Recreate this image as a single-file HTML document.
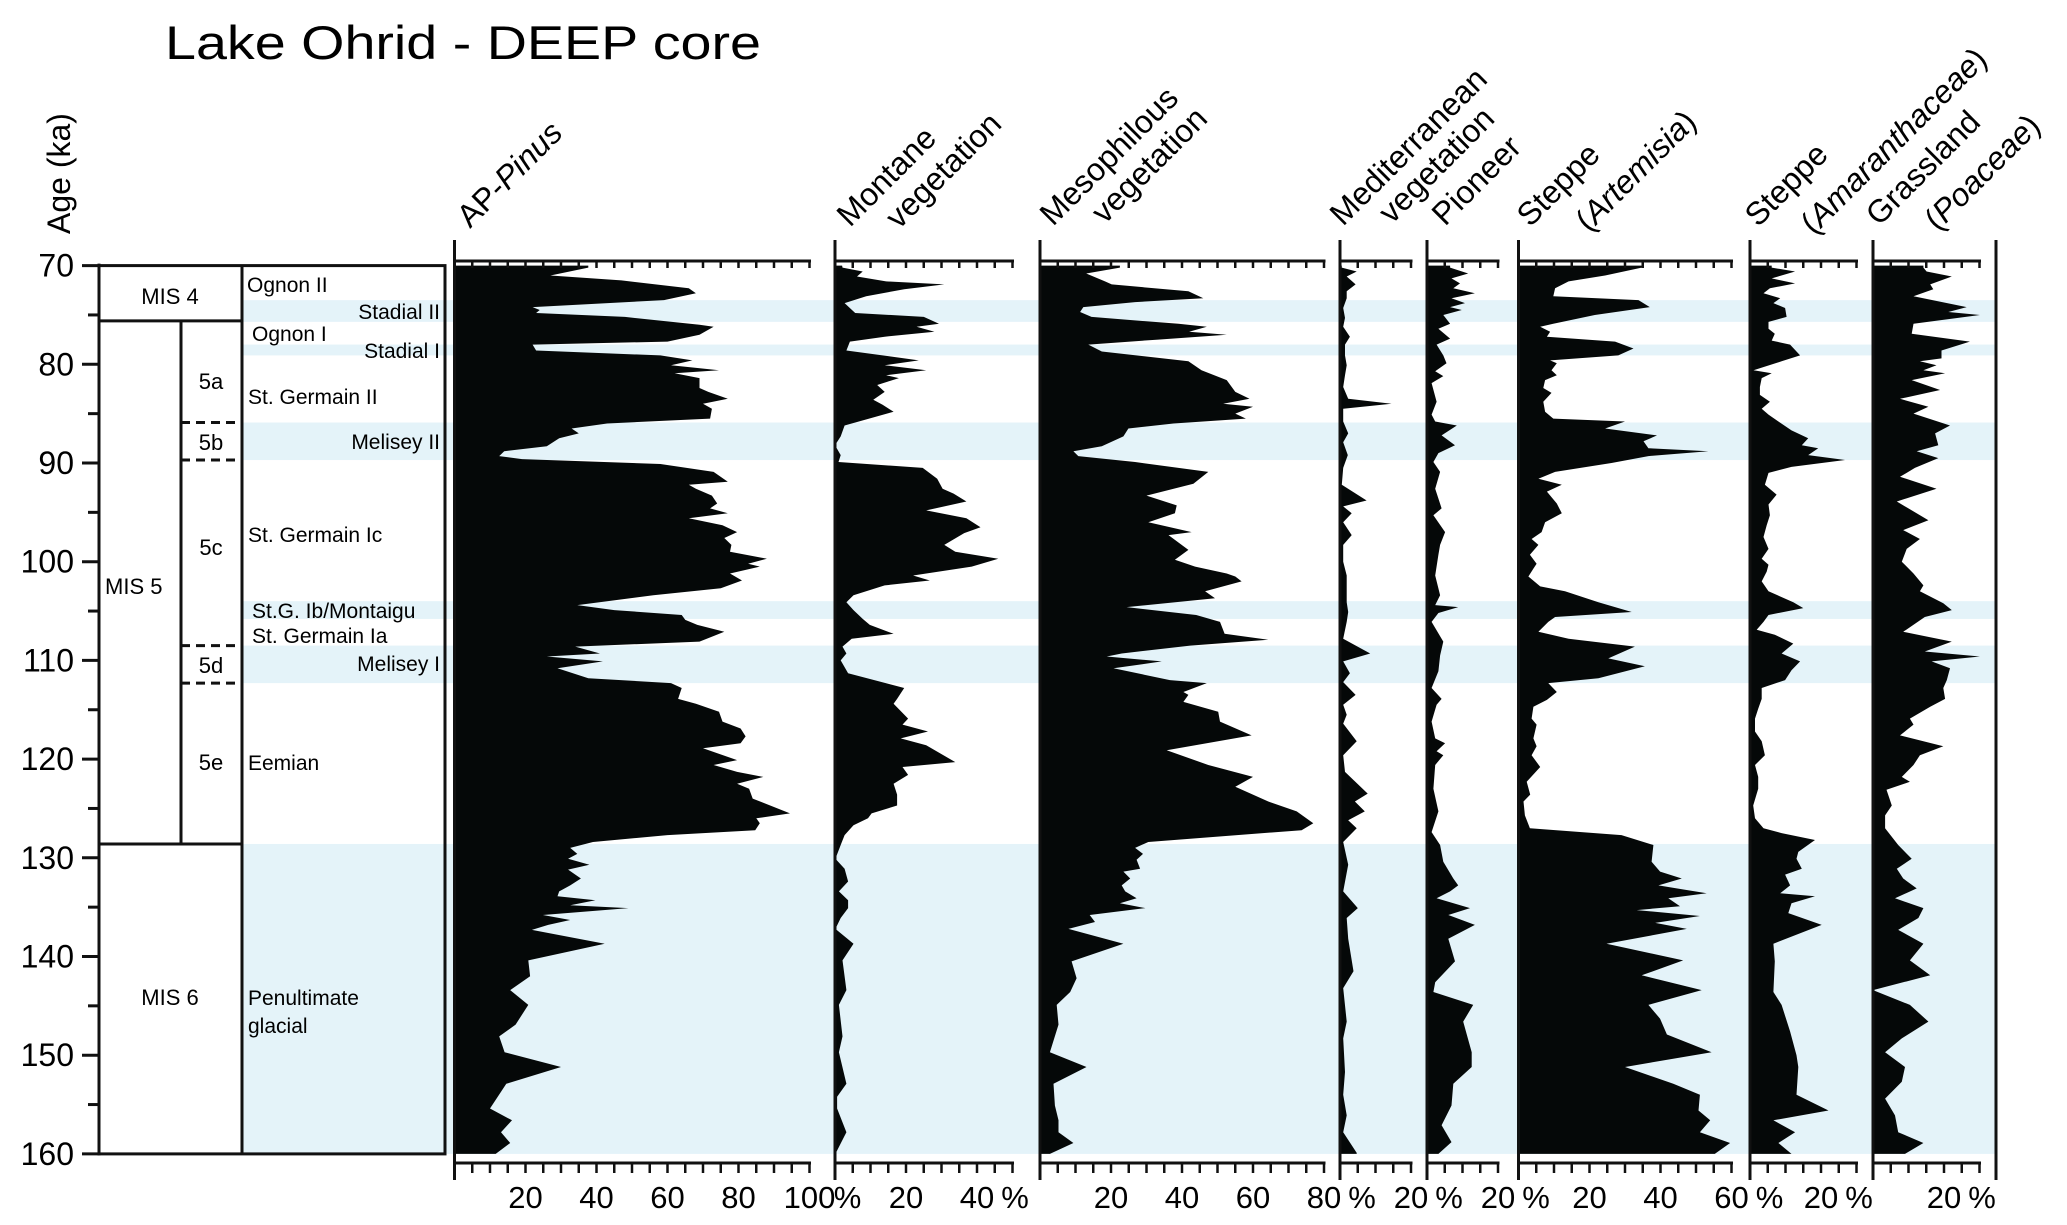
<!DOCTYPE html>
<html><head><meta charset="utf-8"><style>
html,body{margin:0;padding:0;background:#fff;}
svg{display:block;font-family:"Liberation Sans",Arial,sans-serif;}
</style></head><body>
<svg id="chart" width="2067" height="1225" viewBox="0 0 2067 1225" xmlns="http://www.w3.org/2000/svg">
<text x="165" y="59" font-size="47" textLength="596" lengthAdjust="spacingAndGlyphs">Lake Ohrid  - DEEP core</text>
<text transform="translate(70,234) rotate(-90)" font-size="32">Age (ka)</text>
<g id="bands"></g>
<g id="strat"></g>
<g id="panels"></g>
<g id="yaxis"></g>
</svg>
<script>
// ---- data ----
const ageTicks = [70,80,90,100,110,120,130,140,150,160];
const bandStart = [73.5,78.0,85.9,104.0,108.5,128.6];
const bandEnd   = [75.7,79.1,89.7,105.8,112.3,160];

const pinusAge=[70,70.2,71.0,71.5,72.3,72.8,73.5,74.2,74.5,74.8,75.2,76.0,76.2,77.0,77.7,78.0,78.6,79.1,79.6,80.1,80.6,80.9,81.4,82.4,82.8,83.5,84.0,84.5,85.5,86.0,86.5,87.0,87.5,88.3,88.8,89.3,89.6,90.1,90.9,91.9,92.2,92.6,93.3,94.1,94.6,95.1,95.6,96.3,97.0,97.6,98.3,99.0,99.7,100.2,100.5,101.2,101.9,102.7,103.4,104.4,104.9,105.4,105.9,106.4,107.1,108.1,108.6,109.3,109.6,110.1,110.8,111.8,112.3,112.8,113.9,114.4,115.2,116.2,116.9,117.7,118.4,118.9,120.1,120.6,121.3,121.8,122.5,123.0,124.0,125.5,126.0,126.5,127.2,127.7,128.4,129.0,129.6,130.1,130.7,131.2,132.1,132.8,133.4,133.9,134.3,134.8,135.1,135.8,136.3,136.8,137.3,138.7,140.4,142.0,143.4,144.9,146.9,148.1,149.7,151.2,152.9,155.4,156.6,157.8,158.9,160];
const pinusPct=[37.7,37.7,27,47,66,68,59,22,24,23,48,69,73,69,60,22,23,58,67,61,74.5,62,69,69,71.5,77,70,72.5,72,43,33,35,29.5,26,14,12.6,19,58,73,77,66,68,72.5,74,72,77,66,75.5,79.6,76,78,77.6,88,82.7,86,77.6,81,75,56,34.6,45,64,65,68.4,76,69,34,41,26,41.8,29,37.7,61,64,63,68,74.5,75.5,80.6,82,80.6,70,79.6,73,79.6,87,79.6,83,84,94.5,85,86,84.7,60,39,32.6,34.6,32,38,32,35.6,32.6,29.5,29,39.7,32.6,49,24.9,32.6,26.4,21.8,42.3,20.8,21.3,15.7,20.8,17.2,12.6,14.1,30,14.6,10,16.2,13.1,15.7,11.6];

const montAge=[70,70.2,70.6,71.1,71.6,71.9,72.4,73.1,73.8,74.8,75.2,75.9,76.2,76.7,77.2,77.7,78.6,79.1,79.6,80.1,80.6,81.1,81.4,82.1,82.8,83.6,84.1,84.8,86.2,87.3,88.2,89.2,89.9,90.5,91.6,92.6,93.1,93.9,94.8,95.6,96.5,97.1,98.3,99.0,99.7,100.5,101.4,101.9,102.4,103.4,104.1,104.9,105.8,106.4,107.3,107.8,108.6,109.3,110.0,111.3,112.8,113.9,114.4,115.9,116.5,117.2,117.9,118.6,120.3,120.8,121.6,122.5,123.6,124.7,125.5,126.0,126.7,127.7,128.7,130.1,131.1,132.4,133.4,134.3,135.1,136.1,137.2,138.7,140.4,143.4,144.9,148.1,149.7,152.9,154.2,155.4,157.8,160];
const montPct=[2,2.1,7.8,6.2,14.4,30.8,19.5,8.8,2.7,5.7,25,29.3,23,28,14,4.2,3.2,13.4,23.6,14,25.7,14.4,18,11.9,14,10.8,13.4,16.5,2.7,1.6,0,1.6,1,24.7,28.8,30.3,33.4,37,25.7,37,41,36.4,30.8,33.9,46,38.5,22,26.7,14,5.2,3.2,5.2,7.8,9.8,16.5,4.7,2.1,3.2,1.6,3.7,19.5,17.5,16.5,20.6,19,26.2,18.5,25.7,33.9,19,20.6,16.5,17.5,17.5,10.3,9.3,5.2,2.7,1.6,0.1,2.7,3.7,1.1,3.7,3.7,1.6,0.1,5.2,2.1,3.2,1.1,2.1,1.1,3.2,0.6,0.6,3.2,0.1];

const mesoAge=[70,70.2,70.8,71.6,71.9,72.6,73.3,73.7,74.2,74.7,75.2,75.9,76.2,76.7,77.0,77.5,78.0,78.7,79.7,80.6,81.6,82.8,83.5,84.0,84.3,85.0,85.5,86.0,86.5,87.3,88.3,88.8,89.3,89.9,90.9,92.1,93.3,94.3,95.1,96.0,97.0,97.3,98.8,99.8,100.5,101.2,101.5,102.0,103.0,103.7,104.6,105.4,106.1,107.3,107.9,108.5,109.3,109.6,110.1,110.8,112.0,112.3,113.2,113.5,114.2,115.2,116.2,117.6,119.1,120.6,121.8,122.8,124.3,125.3,126.5,127.2,128.4,129.0,129.6,130.2,131.1,131.4,132.1,132.8,133.4,134.1,134.6,135.1,135.8,136.5,137.2,138.7,140.5,142.2,143.6,144.9,146.9,149.7,151.2,152.9,155.1,156.6,157.8,158.9,160];
const mesoPct=[22.5,22.5,13,18.3,20.2,41.8,46,26.8,12.2,11.3,14.5,39,47,42,52.6,33.3,13.6,17.4,41.8,45.5,52.6,55,59,51.6,60,55,58,37.6,24.9,23.5,17.4,9.4,10.8,26.8,47.4,43.2,30,38.5,38,30.5,42.7,36.2,41.8,38,43.7,52.6,55,56.8,46.5,49.3,24.4,44,50.7,52,64.3,42.3,23,18.8,34.3,20.7,36.6,47,40.4,41.8,40.4,50.2,50.7,59.6,35.7,47.4,60,55,64.3,72.3,77,73.7,30.5,26.8,29,27.2,28.2,23.5,25.4,23,24,27.2,22.5,29.7,14,15.5,8,23.5,8.9,10.3,8.5,4.7,5.2,2.8,13.1,3.8,4.2,5.2,5.2,9.4,2.8];

const medAge=[70,70.2,70.6,71.1,71.9,72.6,73.3,74.3,75.3,76.2,77.2,78.0,79.1,80.1,81.1,82.3,83.5,84.0,84.5,85.8,87.0,87.9,89.2,90.5,92.2,93.8,94.4,95.1,96.0,97.3,98.3,100.0,101.4,102.7,104.1,105.1,106.1,107.8,109.3,110.1,111.3,112.2,113.5,114.5,115.5,116.4,118.2,119.6,121.3,123.5,124.3,125.3,126.2,127.0,128.4,130.7,133.4,135.1,136.1,138.2,141.5,143.2,146.6,148.3,151.7,154.0,156.1,157.8,159.9,160];
const medPct=[0.5,0.5,4.7,1.9,4.4,1.9,1.9,0.9,1.4,0.9,2.8,1.4,1.4,1.9,1.4,0.9,2.3,14.5,0.9,0.9,2.3,0.9,2.2,0.9,0.5,7.5,0.9,3.3,0.9,3.3,0.9,0.9,1.9,1.9,1.9,2.3,1.9,0.9,8.5,0.9,2.8,0.9,4.4,0.9,1.9,0.9,4.7,0.9,1.4,7.8,4.2,7,2.3,4.7,0.9,2.3,0.9,5,1.9,2.3,3.8,0.9,1.9,0.9,1.4,0.9,1.9,0.9,4.7,4.7];

const pionAge=[70,70.2,70.8,71.3,71.8,72.3,72.8,73.3,73.8,74.2,74.5,75.0,75.9,76.4,77.4,78.0,79.1,79.9,80.7,81.2,81.9,83.8,85.1,85.8,86.2,87.2,88.2,89.0,89.9,90.9,92.6,94.6,95.3,97.0,98.3,99.3,101.4,103.4,104.4,104.6,105.2,106.1,108.1,109.5,111.1,112.8,113.9,114.5,116.2,117.9,118.4,119.2,119.6,120.6,123.0,125.3,127.4,128.7,130.4,132.1,132.8,133.4,134.1,135.1,135.8,136.8,138.2,140.5,142.6,143.6,144.9,146.6,149.7,151.2,152.9,155.1,157.1,158.8,160];
const pionPct=[6.5,6.5,11.6,6.9,9.3,7.4,13.5,6.9,10.7,6.5,9.8,4.6,6.5,3.2,6.5,2.7,4.6,5.5,2.3,4.6,1.3,2.7,1.3,2.3,8.4,4.1,7.9,3.2,1.8,3.7,2.3,4.1,1.8,5.1,3.7,3.2,2.3,3.7,2.3,8.8,3.2,1.3,4.6,3.7,3.2,1.3,4.1,2.7,1.3,2.3,5.1,2.7,4.6,2.3,1.8,3.2,1.3,3.7,4.6,7.4,8.8,6.5,2.7,12.1,6,13.5,6,7.9,2.3,1.8,13,10.2,12.6,12.6,7.4,6.9,4.1,6.9,3.2];

const artAge=[70,70.2,71.0,71.6,72.3,73.1,73.5,74.2,75.0,75.9,76.2,76.7,77.2,77.7,78.4,79.1,79.6,79.9,80.6,81.1,81.6,82.4,82.9,83.8,84.8,85.5,85.8,86.5,87.2,87.8,88.5,88.8,89.3,90.0,90.9,91.6,92.2,92.9,94.1,95.1,96.0,97.0,97.7,98.3,99.3,100.2,100.7,101.5,102.5,103.0,104.1,105.1,105.6,106.1,107.1,107.8,108.6,109.8,110.6,111.8,112.3,113.2,114.0,114.7,115.9,116.5,117.9,118.7,119.6,120.8,122.3,123.6,124.3,125.7,127.0,127.7,128.7,130.4,131.4,132.1,132.8,133.6,134.1,134.9,135.3,135.9,136.6,137.2,138.7,140.4,141.9,143.4,144.9,146.3,147.9,149.7,151.2,152.9,154.0,155.6,156.6,157.8,158.9,160];
const artPct=[34.7,34.7,24.4,14.1,10.3,9.8,33.8,37,21.5,9.8,6.1,8.9,8,27.2,32.4,28.1,8.9,10.8,9.3,10.8,7.5,7,9.3,7,7.5,9.8,30,24.4,39,35.2,36.6,53.5,36.6,26.2,10.3,5.6,12.2,8,10.8,12.2,7.5,6.5,3.7,5.6,3.2,5.1,4.2,2.8,6.1,13.1,22.5,31.9,10.3,8.4,5.6,14.1,32.8,25.3,35.6,22.5,8.4,10.8,8,4.2,3.7,5.1,4.2,5.1,3.7,6.1,2.3,3.3,1.4,1.8,3.2,29,38,37.5,39.9,46,39.4,53,42.2,45.5,33.3,51.1,38.5,47.4,24.8,46.4,34.7,51.6,36.6,39.9,41.8,54.4,30,43.6,51.1,50.7,54,51.1,59.6,55.3];

const amaAge=[70,70.2,70.6,71.3,71.8,72.3,72.8,73.3,73.8,74.3,75.2,75.7,76.4,76.9,77.6,78.0,79.1,79.7,80.6,80.9,81.4,82.3,83.1,83.8,84.5,85.1,85.8,86.7,87.5,88.2,88.5,89.2,89.7,90.4,91.0,92.2,93.2,94.2,95.3,96.3,97.5,98.7,99.7,100.3,101.0,102.0,103.0,104.1,104.7,105.4,106.1,106.9,107.4,108.3,109.3,110.1,111.0,112.0,112.8,113.9,114.9,115.9,117.2,118.2,119.6,120.6,121.8,123.0,124.7,126.0,127.0,127.5,128.2,129.4,130.1,131.1,131.7,132.8,133.6,133.9,134.6,135.6,136.8,138.7,140.5,143.6,144.9,147.6,150.0,151.2,154.0,155.6,156.6,157.8,158.9,160];
const amaPct=[6.1,6.1,12.7,6.1,12.7,5.6,3.8,8.5,6.6,9.9,10.3,5.2,5.2,7,6.1,11.3,14.1,8.9,1,6.1,3.3,2.8,2.8,5.6,3.3,5.2,8,11.7,16.4,14.6,19.2,16.4,26.8,11.7,5.2,4.2,7.5,5.2,5.6,4.7,3.8,5.2,3.3,5.2,4.7,3.3,5.2,12.2,15,5.2,3.8,1.9,7,12.2,8.9,14.1,11.7,9.9,3.3,3.3,2.3,1.4,1.4,3.3,4.2,1.4,2.3,2.3,0.9,1.4,3.8,8.9,18.3,13.6,13.1,14.6,9.9,11.3,8.5,18.3,11.7,10.8,20.2,6.6,7,6.6,8.9,11.3,13.1,13.6,13.1,22.1,6.6,12.7,8,11.7];

const grassAge=[70,70.2,70.6,71.1,71.9,72.4,73.1,74.2,74.7,75.0,75.9,76.9,77.7,78.6,79.4,79.7,80.1,80.6,80.9,81.6,82.6,83.5,84.3,85.0,86.2,87.0,88.2,88.8,89.5,90.5,91.4,92.6,93.9,95.8,96.8,97.7,98.7,100.0,101.2,102.4,103.0,104.2,104.9,105.6,107.1,108.1,109.1,109.6,110.1,110.8,112.0,112.8,113.9,114.7,115.9,116.5,117.6,118.7,119.6,120.6,121.8,122.3,123.1,124.7,125.7,127.0,128.7,130.1,131.1,132.1,133.1,134.1,135.1,136.1,137.3,138.7,140.4,141.9,143.4,144.9,146.6,148.3,149.7,151.2,152.7,154.4,156.1,157.8,158.9,160];
const grassPct=[14.2,14.2,15.1,22.2,16.1,17,11.4,26.4,21.2,30.1,11.4,10.9,27.3,19.3,19.3,13.2,17.9,14.2,20.3,10.9,18.9,7.6,15.6,11.4,21.7,17.5,18.4,12.3,18.4,11.8,7.6,17.9,6.7,15.6,8.5,13.2,9.5,8.1,11.4,14.2,13.2,19.8,22.2,14.6,8.5,22.2,14.6,30.1,16.5,21.7,20.8,19.8,20.3,16.1,10.4,11.4,7.6,19.8,13.2,11.4,8.1,10.4,3.8,5.3,3.4,3.4,7.1,10.9,6.7,8.5,12.3,6.2,14.2,12.8,7.1,14.2,10.4,16.1,0,10.4,15.6,8.1,3.4,9,8.1,3.4,6.2,7.1,14.2,9];

const panelNames=["ap-pinus","montane","mesophilous","mediterranean","pioneer","steppe-artemisia","steppe-amaranthaceae","grassland-poaceae"];
const panelMax=[100,50,80,20,20,60,30,30];
const panelLabels=[[20,40,60,80,100],[20,40],[20,40,60,80],[20],[20],[20,40,60],[20],[20]];
</script>
<script>
const NS="http://www.w3.org/2000/svg";
const svg=document.getElementById('chart');
const Y0=265.6, PXKA=9.87, PXPCT=3.55;
const yScale=a=>Y0+(a-70)*PXKA;
const panelX0=[454.5,835,1040,1340,1427,1518.5,1750,1873];
const ages=[pinusAge,montAge,mesoAge,medAge,pionAge,artAge,amaAge,grassAge];
const vals=[pinusPct,montPct,mesoPct,medPct,pionPct,artPct,amaPct,grassPct];
function mk(tag,attrs,parent){const e=document.createElementNS(NS,tag);for(const k in attrs)e.setAttribute(k,attrs[k]);parent.appendChild(e);return e;}

// bands
const bands=document.getElementById('bands');
for(let i=0;i<bandStart.length;i++){
  const r=mk('rect',{x:242,y:yScale(bandStart[i]),width:1754,height:yScale(bandEnd[i])-yScale(bandStart[i]),fill:'#e4f3f9'},bands);
  
  
}

// strat column
const st=document.getElementById('strat');
const L={stroke:'#111','stroke-width':3,fill:'none'};
mk('rect',Object.assign({x:99,y:yScale(70),width:346,height:yScale(160)-yScale(70)},L),st);
mk('line',Object.assign({x1:242,y1:yScale(70),x2:242,y2:yScale(160)},L),st);
mk('line',Object.assign({x1:99,y1:yScale(75.6),x2:242,y2:yScale(75.6)},L),st);
mk('line',Object.assign({x1:99,y1:yScale(128.6),x2:242,y2:yScale(128.6)},L),st);
mk('line',Object.assign({x1:181,y1:yScale(75.6),x2:181,y2:yScale(128.6)},L),st);
[85.9,89.7,108.5,112.3].forEach(a=>mk('line',Object.assign({x1:181,y1:yScale(a),x2:242,y2:yScale(a),'stroke-dasharray':'9,6'},L),st));
const stratTexts=[["MIS 4",170,304,'middle'],["MIS 5",105,594,'start'],["MIS 6",170,1005,'middle'],
 ["5a",211,389,'middle'],["5b",211,450,'middle'],["5c",211,555,'middle'],["5d",211,673,'middle'],["5e",211,770,'middle']];
stratTexts.forEach(t=>{const e=mk('text',{x:t[1],y:t[2],'font-size':22,'text-anchor':t[3]},st);e.textContent=t[0];
  
  });
const evTexts=[["Ognon II",247,292,'start'],["Stadial II",440,319,'end'],["Ognon I",252,341,'start'],["Stadial I",440,358,'end'],
 ["St. Germain II",248,404,'start'],["Melisey II",440,449,'end'],["St. Germain Ic",248,542,'start'],["St.G. Ib/Montaigu",252,618,'start'],
 ["St. Germain Ia",252,643,'start'],["Melisey I",440,671,'end'],["Eemian",248,770,'start'],["Penultimate",248,1005,'start'],["glacial",248,1033,'start']];
evTexts.forEach(t=>{const e=mk('text',{x:t[1],y:t[2],'font-size':21,'text-anchor':t[3]},st);e.textContent=t[0];
  
  });

// y axis
const ya=document.getElementById('yaxis');
mk('line',{x1:99,y1:yScale(70)-2,x2:99,y2:yScale(160)+1.5,stroke:'#111','stroke-width':3},ya);
for(let a=70;a<=160;a+=5){mk('line',{x1:(a%10===0)?82:88,y1:yScale(a),x2:99,y2:yScale(a),stroke:'#111','stroke-width':3},ya);}
ageTicks.forEach(a=>{const e=mk('text',{x:74,y:yScale(a)+11,'font-size':32,'text-anchor':'end'},ya);e.textContent=a;
  
  });

// panels
const pg=document.getElementById('panels');
for(let p=0;p<8;p++){
  const g=mk('g',{},pg);
  
  
  const x0=panelX0[p], xs=v=>x0+v*PXPCT, xe=xs(panelMax[p]);
  const A=ages[p],V=vals[p];
  let pts=[[x0,yScale(A[0])]];
  for(let i=0;i<A.length;i++)pts.push([xs(V[i]),yScale(A[i])]);
  pts.push([x0,yScale(A[A.length-1])]);
  const area=mk('polygon',{points:pts.map(q=>q[0].toFixed(1)+','+q[1].toFixed(1)).join(' '),fill:'#050808'},g);
  
  
  mk('line',{x1:x0,y1:240,x2:x0,y2:1180,stroke:'#111','stroke-width':3},g);
  mk('line',{x1:x0,y1:261,x2:xe+1.5,y2:261,stroke:'#111','stroke-width':3},g);
  mk('line',{x1:x0,y1:1163,x2:xe+1.5,y2:1163,stroke:'#111','stroke-width':3},g);
  for(let v=5;v<=panelMax[p];v+=5){
    mk('line',{x1:xs(v),y1:261,x2:xs(v),y2:268,stroke:'#111','stroke-width':2.5},g);
    mk('line',{x1:xs(v),y1:1163,x2:xs(v),y2:1173,stroke:'#111','stroke-width':2.5},g);
  }
  const labs=panelLabels[p];
  labs.forEach(v=>{const e=mk('text',{x:xs(v),y:1208,'font-size':31,'text-anchor':'middle'},g);e.textContent=v;
    
    });
  const pc=mk('text',{x:xs(labs[labs.length-1])+38,y:1208,'font-size':31,'text-anchor':'middle'},g);pc.textContent='%';
  
  
}
mk('line',{x1:1996,y1:240,x2:1996,y2:1180,stroke:'#111','stroke-width':3},pg);

// titles
const titles=[
 {x:470,y:229,l1:[["AP-",false],["Pinus",true]],l2:null},
 {x:850,y:228,l1:[["Montane",false]],l2:[["vegetation",false]],dx:33,dy:36},
 {x:1053,y:227,l1:[["Mesophilous",false]],l2:[["vegetation",false]],dx:38,dy:35},
 {x:1343,y:227,l1:[["Mediterranean",false]],l2:[["vegetation",false]],dx:36,dy:33},
 {x:1445,y:227,l1:[["Pioneer",false]],l2:null},
 {x:1530,y:228,l1:[["Steppe",false]],l2:[["(",false],["Artemisia",true],[")",false]],dx:38,dy:45},
 {x:1758,y:228,l1:[["Steppe",false]],l2:[["(",false],["Amaranthaceae",true],[")",false]],dx:34,dy:45},
 {x:1879,y:227,l1:[["Grassland",false]],l2:[["(",false],["Poaceae",true],[")",false]],dx:38,dy:45}
];
titles.forEach((t,i)=>{
  const e=mk('text',{transform:`translate(${t.x},${t.y}) rotate(-45)`,'font-size':32},svg);
  
  
  t.l1.forEach((s,j)=>{const ts=mk('tspan',j===0?{x:0,y:0}:{},e);if(s[1])ts.setAttribute('font-style','italic');ts.textContent=s[0];});
  if(t.l2)t.l2.forEach((s,j)=>{const ts=mk('tspan',j===0?{x:t.dx,y:t.dy}:{},e);if(s[1])ts.setAttribute('font-style','italic');ts.textContent=s[0];});
});
</script>
</body></html>
